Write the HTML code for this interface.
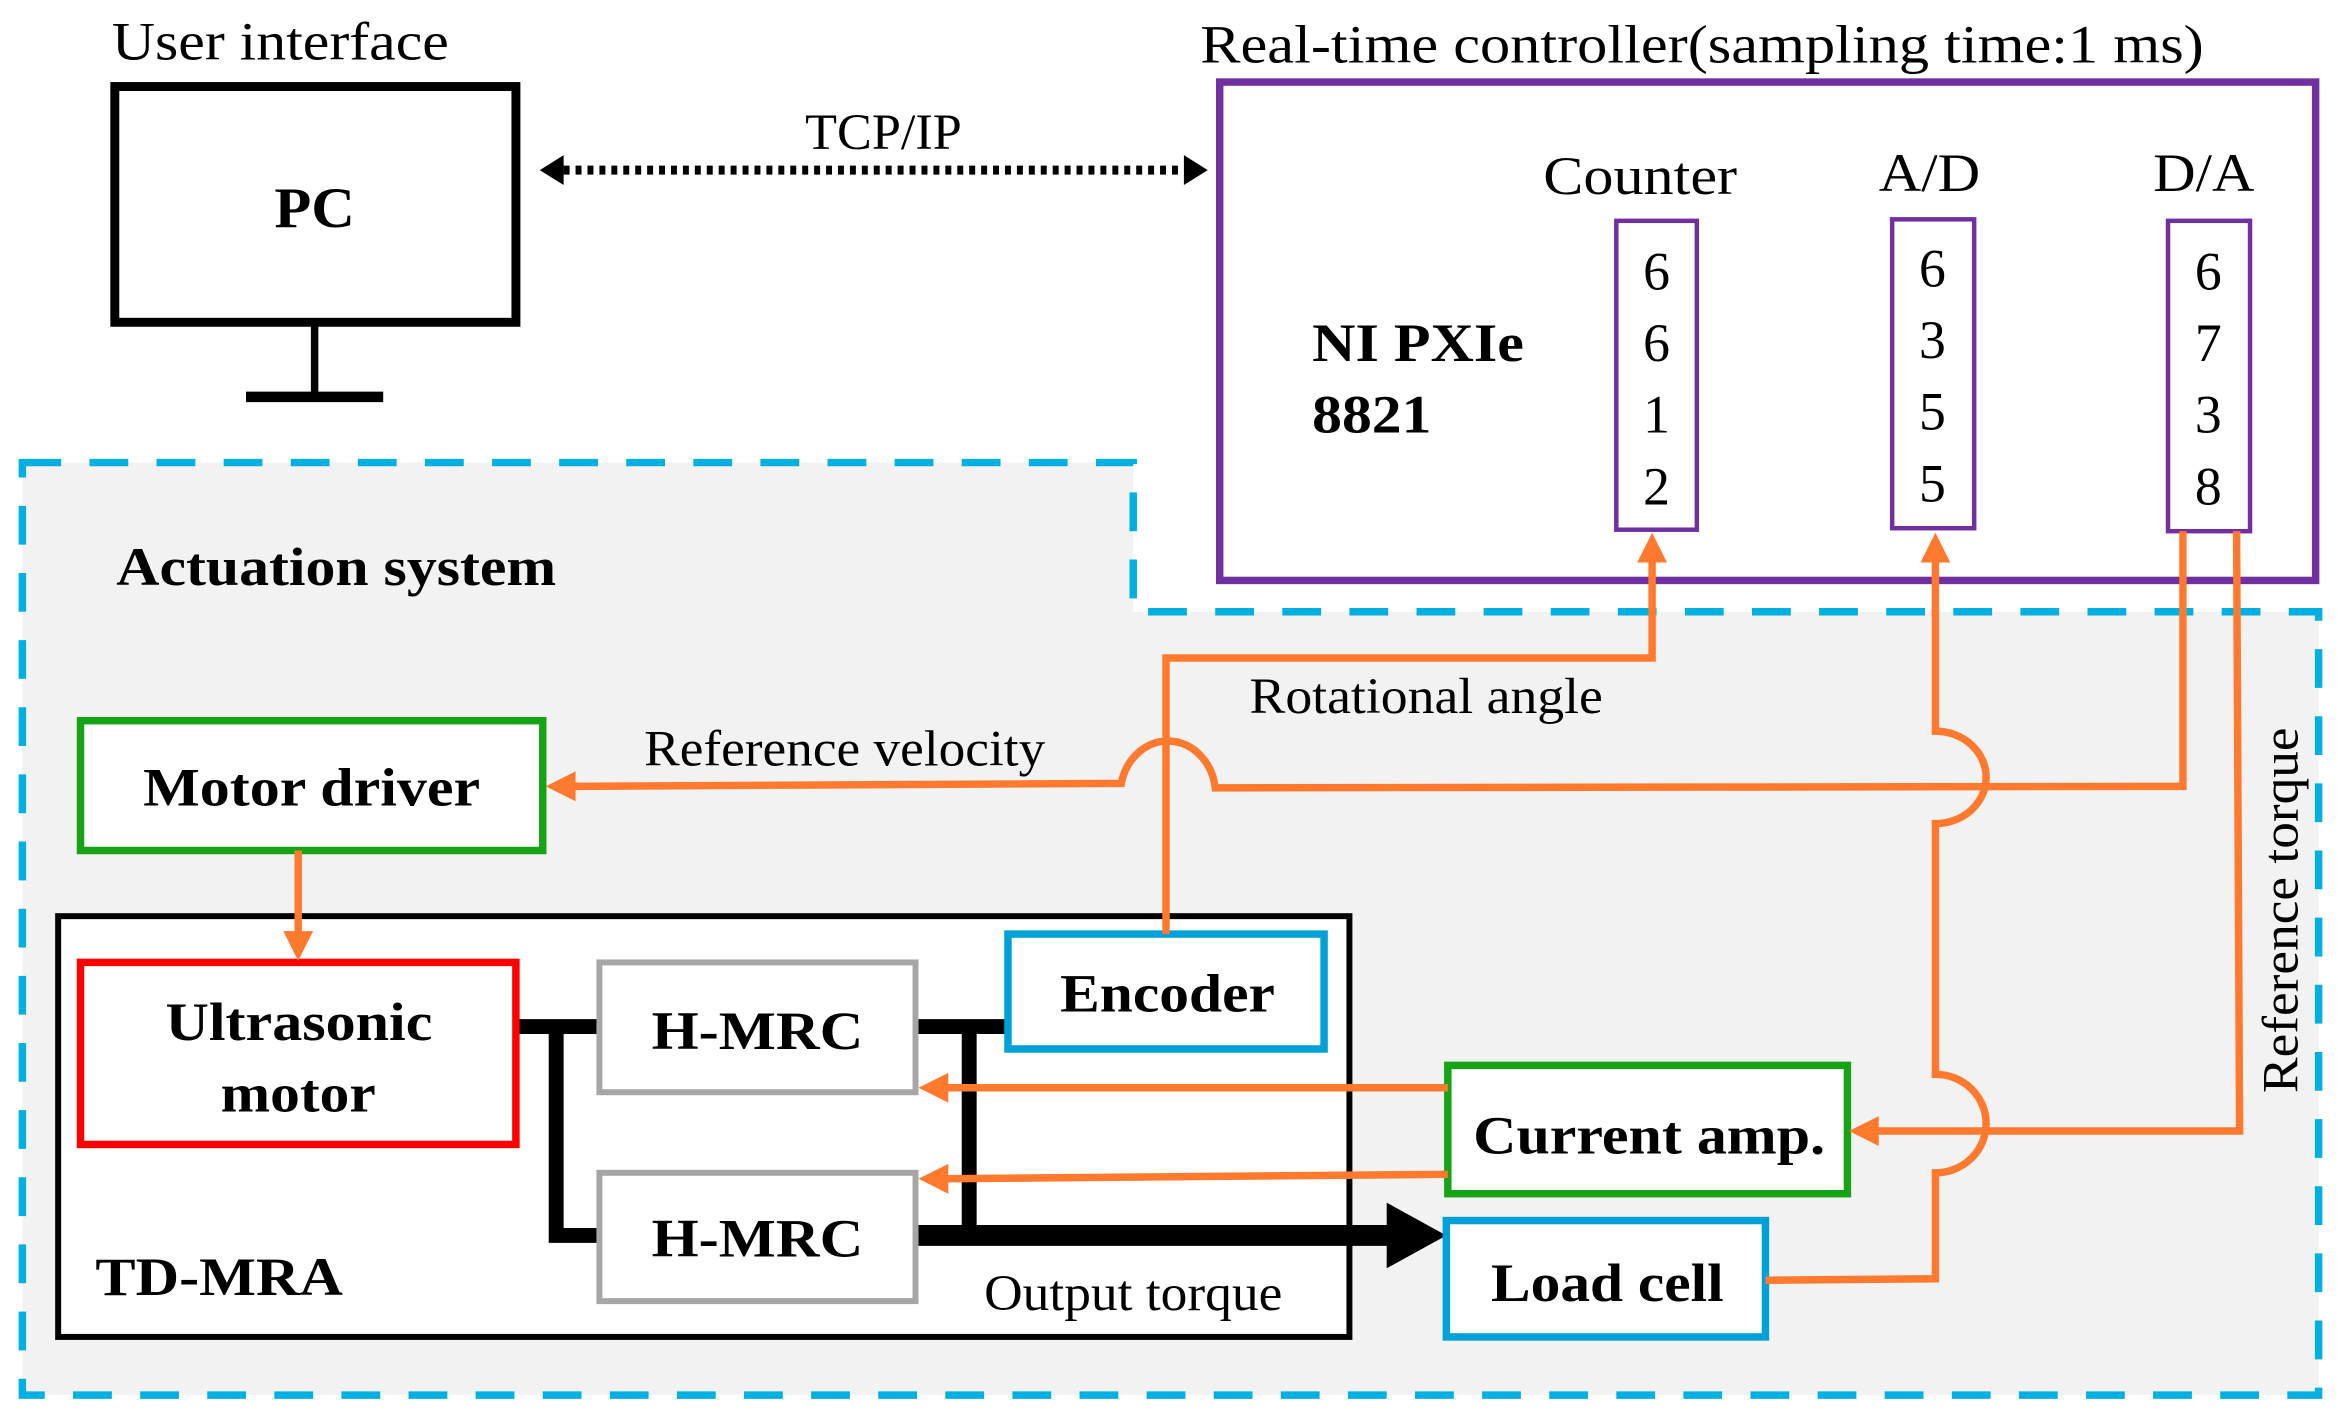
<!DOCTYPE html>
<html><head><meta charset="utf-8"><style>
html,body{margin:0;padding:0;background:#fff;}
svg{display:block;}
text{font-family:"Liberation Serif",serif;fill:#000;}
.b{font-weight:bold;}
</style></head><body>
<svg width="2338" height="1419" viewBox="0 0 1568 951" preserveAspectRatio="none" xmlns="http://www.w3.org/2000/svg">
<!-- actuation region -->
<path d="M15,310 L760,310 L760,410 L1555,410 L1555,935 L15,935 Z" fill="#f2f2f2" stroke="#00b0e0" stroke-width="5" stroke-dasharray="26,19"/>
<!-- user interface -->
<text x="75" y="40" font-size="36" textLength="226" lengthAdjust="spacingAndGlyphs">User interface</text>
<rect x="77" y="58" width="269" height="158" fill="#fff" stroke="#000" stroke-width="6"/>
<text x="184" y="152" font-size="38" class="b" textLength="54" lengthAdjust="spacingAndGlyphs">PC</text>
<line x1="211" y1="216" x2="211" y2="266" stroke="#000" stroke-width="5"/>
<line x1="165" y1="266" x2="257" y2="266" stroke="#000" stroke-width="7"/>
<!-- TCP/IP -->
<text x="540" y="100" font-size="34" textLength="105" lengthAdjust="spacingAndGlyphs">TCP/IP</text>
<line x1="378" y1="114" x2="794" y2="114" stroke="#000" stroke-width="6" stroke-dasharray="4,4"/>
<path d="M362,114 L378,104 L378,124 Z" fill="#000"/>
<path d="M810,114 L794,104 L794,124 Z" fill="#000"/>
<!-- controller -->
<text x="805" y="42" font-size="36" textLength="673" lengthAdjust="spacingAndGlyphs">Real-time controller(sampling time:1 ms)</text>
<rect x="818" y="55" width="735" height="334" fill="#fff" stroke="#7030a0" stroke-width="5"/>
<text x="1035" y="130" font-size="36" textLength="130" lengthAdjust="spacingAndGlyphs">Counter</text>
<text x="1260" y="128" font-size="36" textLength="68" lengthAdjust="spacingAndGlyphs">A/D</text>
<text x="1444" y="128" font-size="36" textLength="68" lengthAdjust="spacingAndGlyphs">D/A</text>
<rect x="1084" y="148" width="54" height="207" fill="#fff" stroke="#7030a0" stroke-width="3"/>
<rect x="1269" y="147" width="55" height="207" fill="#fff" stroke="#7030a0" stroke-width="3"/>
<rect x="1454" y="148" width="55" height="208" fill="#fff" stroke="#7030a0" stroke-width="3"/>
<g font-size="36" text-anchor="middle">
<text x="1111" y="194">6</text><text x="1111" y="242">6</text><text x="1111" y="290">1</text><text x="1111" y="338">2</text>
<text x="1296" y="192">6</text><text x="1296" y="240">3</text><text x="1296" y="288">5</text><text x="1296" y="336">5</text>
<text x="1481" y="194">6</text><text x="1481" y="242">7</text><text x="1481" y="290">3</text><text x="1481" y="338">8</text>
</g>
<text x="880" y="242" font-size="36" class="b" textLength="142" lengthAdjust="spacingAndGlyphs">NI PXIe</text>
<text x="880" y="290" font-size="36" class="b" textLength="80" lengthAdjust="spacingAndGlyphs">8821</text>
<text x="78" y="392" font-size="36" class="b" textLength="295" lengthAdjust="spacingAndGlyphs">Actuation system</text>
<!-- Motor driver -->
<rect x="54" y="483" width="310" height="87" fill="#fff" stroke="#16a316" stroke-width="5"/>
<text x="96" y="540" font-size="36" class="b" textLength="226" lengthAdjust="spacingAndGlyphs">Motor driver</text>
<text x="432" y="513" font-size="34" textLength="269" lengthAdjust="spacingAndGlyphs">Reference velocity</text>
<text x="838" y="478" font-size="34" textLength="237" lengthAdjust="spacingAndGlyphs">Rotational angle</text>
<!-- TD-MRA -->
<rect x="39" y="614" width="866" height="282" fill="#fff" stroke="#000" stroke-width="4"/>
<g stroke="#000" fill="none">
<path d="M346,688 L402,688" stroke-width="10"/>
<path d="M373,688 L373,828 L402,828" stroke-width="10"/>
<path d="M614,688 L676,688" stroke-width="10"/>
<path d="M650,688 L650,828" stroke-width="10"/>
<path d="M614,828 L932,828" stroke-width="14"/>
</g>
<path d="M970,828 L930,806 L930,850 Z" fill="#000"/>
<rect x="54" y="645" width="292" height="122" fill="#fff" stroke="#ff0000" stroke-width="5"/>
<text x="111" y="697" font-size="36" class="b" textLength="179" lengthAdjust="spacingAndGlyphs">Ultrasonic</text>
<text x="148" y="745" font-size="36" class="b" textLength="104" lengthAdjust="spacingAndGlyphs">motor</text>
<rect x="402" y="645" width="212" height="87" fill="#fff" stroke="#a6a6a6" stroke-width="4"/>
<text x="437" y="703" font-size="36" class="b" textLength="142" lengthAdjust="spacingAndGlyphs">H-MRC</text>
<rect x="402" y="786" width="212" height="86" fill="#fff" stroke="#a6a6a6" stroke-width="4"/>
<text x="437" y="842" font-size="36" class="b" textLength="142" lengthAdjust="spacingAndGlyphs">H-MRC</text>
<rect x="676" y="626" width="212" height="77" fill="#fff" stroke="#00a0d8" stroke-width="5"/>
<text x="711" y="678" font-size="36" class="b" textLength="144" lengthAdjust="spacingAndGlyphs">Encoder</text>
<text x="64" y="868" font-size="36" class="b" textLength="166" lengthAdjust="spacingAndGlyphs">TD-MRA</text>
<text x="660" y="878" font-size="34" textLength="200" lengthAdjust="spacingAndGlyphs">Output torque</text>
<rect x="971" y="714" width="268" height="86" fill="#fff" stroke="#16a316" stroke-width="5"/>
<text x="988" y="773" font-size="36" class="b" textLength="236" lengthAdjust="spacingAndGlyphs">Current amp.</text>
<rect x="970" y="818" width="214" height="78" fill="#fff" stroke="#00a0d8" stroke-width="5"/>
<text x="1000" y="872" font-size="36" class="b" textLength="156" lengthAdjust="spacingAndGlyphs">Load cell</text>
<text x="0" y="0" font-size="34" text-anchor="middle" textLength="245" lengthAdjust="spacingAndGlyphs" transform="translate(1541,610) rotate(-90)">Reference torque</text>
<!-- orange wires -->
<g fill="none" stroke="#ff7a2e" stroke-width="5">
<path d="M1464,356 L1464,527 L815,528 A32,36 0 0 0 752,525 L384,527"/>
<path d="M200,570 L200,626"/>
<path d="M782,626 L782,441 L1108,441 L1108,374"/>
<path d="M1184,858 L1298,857 L1298,786 A34,33 0 0 0 1298,720 L1298,552 A34,31 0 0 0 1298,490 L1298,374"/>
<path d="M1500,356 L1502,758 L1256,758"/>
<path d="M971,729 L634,729"/>
<path d="M971,787 L634,790"/>
</g>
<g fill="#ff7a2e">
<path d="M366,527 L386,517 L386,537 Z"/>
<path d="M200,644 L190,624 L210,624 Z"/>
<path d="M1108,357 L1098,377 L1118,377 Z"/>
<path d="M1298,357 L1288,377 L1308,377 Z"/>
<path d="M1240,758 L1260,748 L1260,768 Z"/>
<path d="M616,729 L636,719 L636,739 Z"/>
<path d="M616,790 L636,780 L636,800 Z"/>
</g>
</svg>
</body></html>
